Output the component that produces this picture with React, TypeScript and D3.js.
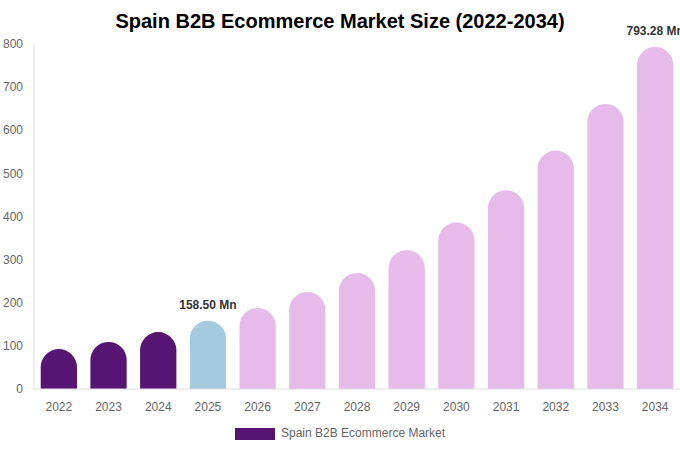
import { useEffect, useRef } from "react";
import * as d3 from "d3";

const years = [
  "2022", "2023", "2024", "2025", "2026", "2027", "2028",
  "2029", "2030", "2031", "2032", "2033", "2034",
];
const marketSize = [
  92.5, 109, 132, 158.5, 188, 225, 269, 322, 386, 461, 553, 661, 793.28,
];
const yTicks = [0, 100, 200, 300, 400, 500, 600, 700, 800];
const labelledYears = ["2025", "2034"];

const width = 680;
const height = 450;
const margin = { top: 44, right: 0, bottom: 61, left: 34 };

const colorOf = (year: string) => {
  const y = +year;
  if (y < 2025) return "#561573";
  if (y === 2025) return "#a4cadf";
  return "#e7bbe9";
};

export default function App() {
  const svgRef = useRef<SVGSVGElement | null>(null);

  useEffect(() => {
    if (!svgRef.current) return;
    const svg = d3.select(svgRef.current);
    svg.selectAll("*").remove();

    const data = years.map((year, i) => ({ year, value: marketSize[i] }));

    const x = d3
      .scaleBand()
      .domain(years)
      .range([margin.left, width - margin.right])
      .paddingInner(0.27)
      .paddingOuter(0.135);

    const y = d3
      .scaleLinear()
      .domain([0, 800])
      .range([height - margin.bottom, margin.top]);

    const font = "'Liberation Sans', Arial, sans-serif";

    // title
    svg
      .append("text")
      .attr("x", width / 2)
      .attr("y", 28)
      .attr("text-anchor", "middle")
      .attr("font-family", font)
      .attr("font-size", 20)
      .attr("font-weight", 700)
      .attr("fill", "#000")
      .text("Spain B2B Ecommerce Market Size (2022-2034)");

    // y axis line
    svg
      .append("line")
      .attr("x1", margin.left)
      .attr("x2", margin.left)
      .attr("y1", margin.top)
      .attr("y2", height - margin.bottom)
      .attr("stroke", "#e0e0e0");

    // y tick labels
    svg
      .append("g")
      .selectAll("text")
      .data(yTicks)
      .join("text")
      .attr("x", 23)
      .attr("y", (d) => y(d))
      .attr("dy", "0.35em")
      .attr("text-anchor", "end")
      .attr("font-family", font)
      .attr("font-size", 12)
      .attr("fill", "#666")
      .text((d) => d);

    // bars with rounded tops
    const r = x.bandwidth() / 2;
    svg
      .append("g")
      .selectAll("path")
      .data(data)
      .join("path")
      .attr("fill", (d) => colorOf(d.year))
      .attr("d", (d) => {
        const x0 = x(d.year) ?? 0;
        const x1 = x0 + x.bandwidth();
        const top = y(d.value);
        const base = y(0);
        const rr = Math.min(r, base - top);
        const p = d3.path();
        p.moveTo(x0, base);
        p.lineTo(x0, top + rr);
        p.arcTo(x0, top, x0 + rr, top, rr);
        p.lineTo(x1 - rr, top);
        p.arcTo(x1, top, x1, top + rr, rr);
        p.lineTo(x1, base);
        p.closePath();
        return p.toString();
      });

    // baseline
    svg
      .append("line")
      .attr("x1", margin.left)
      .attr("x2", width)
      .attr("y1", y(0))
      .attr("y2", y(0))
      .attr("stroke", "#dddddd");

    // x tick labels
    svg
      .append("g")
      .selectAll("text")
      .data(years)
      .join("text")
      .attr("x", (d) => (x(d) ?? 0) + x.bandwidth() / 2)
      .attr("y", 411)
      .attr("text-anchor", "middle")
      .attr("font-family", font)
      .attr("font-size", 12)
      .attr("fill", "#666")
      .text((d) => d);

    // value labels
    svg
      .append("g")
      .selectAll("text")
      .data(data.filter((d) => labelledYears.includes(d.year)))
      .join("text")
      .attr("x", (d) => (x(d.year) ?? 0) + x.bandwidth() / 2)
      .attr("y", (d) => y(d.value) - 12)
      .attr("text-anchor", "middle")
      .attr("font-family", font)
      .attr("font-size", 12)
      .attr("font-weight", 700)
      .attr("fill", "#333")
      .text((d) => `${d.value.toFixed(2)} Mn`);

    // legend
    const legend = svg.append("g");
    legend
      .append("rect")
      .attr("x", 235)
      .attr("y", 428)
      .attr("width", 40)
      .attr("height", 12)
      .attr("fill", "#561573");
    legend
      .append("text")
      .attr("x", 281)
      .attr("y", 437)
      .attr("font-family", font)
      .attr("font-size", 12)
      .attr("fill", "#666")
      .text("Spain B2B Ecommerce Market");
  }, []);

  return (
    <svg
      ref={svgRef}
      width={width}
      height={height}
      viewBox={`0 0 ${width} ${height}`}
      style={{ position: "absolute", left: 0, top: 0, background: "#fff" }}
    />
  );
}
